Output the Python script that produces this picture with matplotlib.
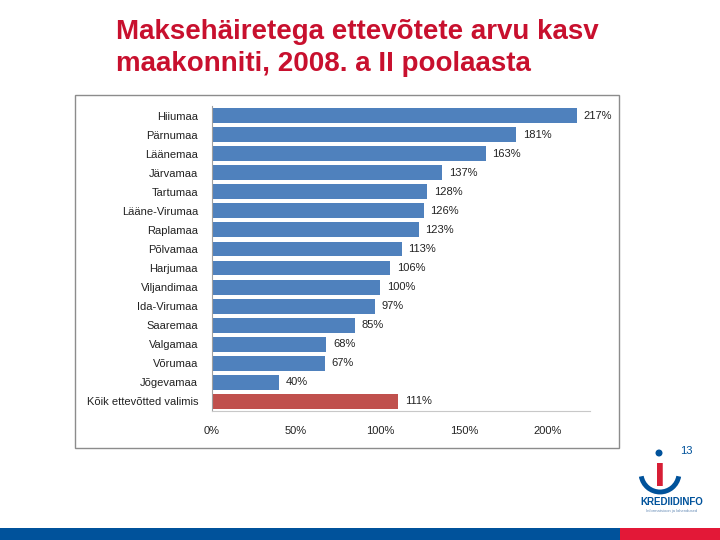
import matplotlib.pyplot as plt
from matplotlib.patches import Rectangle, Circle, Arc

# andmed
maakonnad = ['Hiiumaa', 'Pärnumaa', 'Läänemaa', 'Järvamaa', 'Tartumaa', 'Lääne-Virumaa',
             'Raplamaa', 'Põlvamaa', 'Harjumaa', 'Viljandimaa', 'Ida-Virumaa', 'Saaremaa',
             'Valgamaa', 'Võrumaa', 'Jõgevamaa', 'Kõik ettevõtted valimis']
kasv = [217, 181, 163, 137, 128, 126, 123, 113, 106, 100, 97, 85, 68, 67, 40, 111]
xticks = [0, 50, 100, 150, 200]

plt.rcParams['font.family'] = ['Liberation Sans', 'DejaVu Sans']

fig = plt.figure(figsize=(7.2, 5.4), dpi=100)

# pealkiri
fig.text(116/720, 1 - 19/540, 'Maksehäiretega ettevõtete arvu kasv\nmaakonniti, 2008. a II poolaasta',
         color='#C8102E', fontsize=20, fontweight='bold', va='top', ha='left', linespacing=1.3)

# graafiku raam
fig.patches.append(Rectangle((75/720, 1 - 448/540), 544/720, 353/540, transform=fig.transFigure,
                             fill=False, edgecolor='#8c8c8c', linewidth=1.0))

ax = fig.add_axes([212/720, 1 - 411/540, 378/720, 305/540])
värvid = ['#4F81BD'] * (len(kasv) - 1) + ['#C0504D']
y = range(len(kasv))
ax.barh(y, kasv, height=0.78, color=värvid)
for i, v in enumerate(kasv):
    ax.text(v + 4, i, '{}%'.format(v), va='center', ha='left', fontsize=8, color='#222222')

ax.set_xlim(0, 225)
ax.set_ylim(len(kasv) - 0.5, -0.5)
ax.set_yticks(list(y))
ax.set_yticklabels(maakonnad, fontsize=8, color='#222222')
ax.set_xticks(xticks)
ax.set_xticklabels(['{}%'.format(t) for t in xticks], fontsize=8, color='#222222')
ax.tick_params(axis='both', length=0)
ax.tick_params(axis='y', pad=10)
ax.tick_params(axis='x', pad=11)
for s in ['top', 'right']:
    ax.spines[s].set_visible(False)
ax.spines['left'].set_color('#a0a0a0')
ax.spines['bottom'].set_color('#c8c8c8')

# alumine riba
fig.patches.append(Rectangle((0, 0), 620/720, 12/540, transform=fig.transFigure,
                             color='#00529B', linewidth=0))
fig.patches.append(Rectangle((620/720, 0), 100/720, 12/540, transform=fig.transFigure,
                             color='#E31837', linewidth=0))

# logo
lax = fig.add_axes([630/720, 1 - 525/540, 85/720, 80/540])
lax.set_xlim(0, 85)
lax.set_ylim(0, 80)
lax.axis('off')
lax.add_patch(Arc((30, 52), 38, 38, theta1=190, theta2=350, color='#00529B', linewidth=3.5))
lax.text(30, 50, 'ı', color='#D71E35', fontsize=30, fontweight='bold', ha='center', va='center')
lax.add_patch(Circle((29, 72), 2.8, color='#00529B'))
lax.text(56, 74, '13', color='#00529B', fontsize=8, ha='center', va='center')
lax.text(42, 23, 'KREDIIDINFO', color='#00529B', fontsize=7, fontweight='bold', ha='center', va='center')
lax.text(42, 14, 'Informatsioon ja lahendused', color='#6a8fb8', fontsize=3, ha='center', va='center')

fig.savefig('out.png', dpi=100)
